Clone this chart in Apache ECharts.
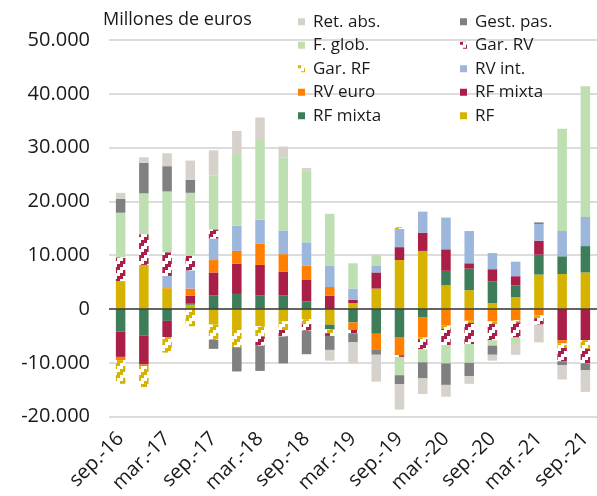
<!DOCTYPE html>
<html>
<head>
<meta charset="utf-8">
<script src="https://cdn.jsdelivr.net/npm/echarts@6/dist/echarts.min.js"></script>
<style>
  html, body { margin: 0; padding: 0; background: #fff; }
  #chart { width: 597px; height: 496px; }
</style>
</head>
<body>
<div id="chart"></div>
<script>
// trimestres
const categorias = ['sep.-16', 'dic.-16', 'mar.-17', 'jun.-17', 'sep.-17', 'dic.-17', 'mar.-18',
  'jun.-18', 'sep.-18', 'dic.-18', 'mar.-19', 'jun.-19', 'sep.-19', 'dic.-19', 'mar.-20',
  'jun.-20', 'sep.-20', 'dic.-20', 'mar.-21', 'jun.-21', 'sep.-21']

// millones de euros
const rf = [5200, 8200, 3800, 800, -2900, -3900, -3200, -2300, -1900, -2900, 1100, 3800, 9100, 10800, 4400, 3500, 1100, 2200, 6400, 6500, 6800]
const rfMixtaVerde = [-4200, -4900, -2200, 300, 2500, 2800, 2500, 2500, 1400, -900, -2500, -4600, -5200, -1600, 2700, 4000, 4000, 2200, 3700, 3300, 4900]
const rfMixta = [-4700, -5400, -3000, 1400, 4300, 5600, 5700, 4400, 4000, 2500, 600, 3000, 2400, 3400, 4000, 1000, 2300, 1700, 2600, -5800, -5800]
const rvEuro = [-600, -300, 250, 1300, 2300, 2400, 4000, 3300, 2700, 1600, -1400, -3000, -3400, -3700, -3100, -2200, -2300, -2100, -1200, -600, 0]
const rvInt = [0, 0, 2100, 3400, 4000, 4700, 4400, 4400, 4300, 4000, 2100, 1300, 3400, 3900, 5900, 6000, 3000, 2700, 3100, 4700, 5400]
const garRF = [-4400, -3900, -2900, -3200, -2800, -3200, -1900, -1600, -900, -700, 0, 0, 300, -300, -600, -400, -400, -400, -500, -800, -1600]
const garRV = [4400, 5700, 4400, 2700, 1700, 0, -1700, -1200, -1200, -500, -600, 0, -300, -1900, -3000, -3900, -3100, -2800, -1200, -2500, -2700]
const fGlob = [8300, 7600, 11300, 11700, 10000, 13300, 15000, 13600, 13400, 9600, 4700, 2000, -3400, -2400, -3400, -3500, -1000, -1200, 0, 19000, 24300]
const gestPas = [2600, 5700, 4700, 2400, -1700, -4500, -4700, -5000, -4400, -2600, -1700, -900, -1700, -3000, -4000, -2500, -1700, 0, 300, -700, -1300]
const retAbs = [1100, 1000, 2400, 3600, 4700, 4300, 4000, 2000, 400, -2000, -3900, -5000, -4700, -2900, -2200, -1400, -1100, -2000, -3300, -2700, -4000]

const FONT = '"Open Sans", sans-serif'

// trama escalonada para los garantizados
function trama(color) {
  const c = document.createElement('canvas')
  c.width = 12
  c.height = 12
  const ctx = c.getContext('2d')
  ctx.fillStyle = '#fff'
  ctx.fillRect(0, 0, 12, 12)
  ctx.fillStyle = color
  for (let k = 0; k < 4; k++) {
    for (let dy = -12; dy <= 12; dy += 12) {
      ctx.fillRect(k * 3, 9 - k * 3 + dy, 3, 6)
    }
  }
  return { image: c, repeat: 'repeat' }
}

function miles(v) {
  const s = Math.abs(v).toString().replace(/\B(?=(\d{3})+(?!\d))/g, '.')
  return (v < 0 ? '-' : '') + s
}

function serie(name, data, color) {
  return {
    name: name,
    type: 'bar',
    stack: 'total',
    barWidth: 9.5,
    data: data,
    itemStyle: { color: color },
    emphasis: { disabled: true }
  }
}

const RF_MIXTA_VERDE = 'RF mixta\u00a0'

const series = [
  serie('RF', rf, '#d5b300'),
  serie(RF_MIXTA_VERDE, rfMixtaVerde, '#3e7d5a'),
  serie('RF mixta', rfMixta, '#aa1f47'),
  serie('RV euro', rvEuro, '#ff8000'),
  serie('RV int.', rvInt, '#9cb7db'),
  serie('Gar. RF', garRF, trama('#d5b300')),
  serie('Gar. RV', garRV, trama('#aa1f47')),
  serie('F. glob.', fGlob, '#bedfb1'),
  serie('Gest. pas.', gestPas, '#808080'),
  serie('Ret. abs.', retAbs, '#d6d2cb')
]

// línea del cero
series[0].markLine = {
  silent: true,
  symbol: 'none',
  label: { show: false },
  lineStyle: { color: '#3c3c3c', width: 1.5, type: 'solid' },
  data: [{ yAxis: 0 }]
}

const leyenda = {
  orient: 'vertical',
  top: 5,
  itemWidth: 7,
  itemHeight: 7,
  itemGap: 0,
  icon: 'rect',
  selectedMode: false,
  textStyle: { fontFamily: FONT, fontSize: 17, color: '#1a1a1a', lineHeight: 23.5, padding: [0, 0, 0, 3] }
}

const chart = echarts.init(document.getElementById('chart'))
chart.setOption({
  animation: false,
  title: {
    text: 'Millones de euros',
    left: 98,
    top: 6,
    textStyle: { fontFamily: FONT, fontSize: 18, fontWeight: 'normal', color: '#1a1a1a' }
  },
  legend: [
    Object.assign({ left: 293, data: ['Ret. abs.', 'F. glob.', 'Gar. RF', 'RV euro', RF_MIXTA_VERDE] }, leyenda),
    Object.assign({ left: 455, data: ['Gest. pas.', 'Gar. RV', 'RV int.', 'RF mixta', 'RF'] }, leyenda)
  ],
  grid: { left: 109, right: 0, top: 40, bottom: 78, containLabel: false },
  xAxis: {
    type: 'category',
    data: categorias,
    axisLine: { show: false, onZero: false },
    axisTick: { show: false },
    axisLabel: {
      interval: 1,
      rotate: 45,
      margin: 19,
      fontFamily: FONT,
      fontSize: 20,
      color: '#1a1a1a'
    }
  },
  yAxis: {
    type: 'value',
    min: -20000,
    max: 50000,
    interval: 10000,
    axisLine: { show: false },
    axisTick: { show: false },
    axisLabel: {
      margin: 19,
      fontFamily: FONT,
      fontSize: 20,
      color: '#1a1a1a',
      formatter: miles
    },
    splitLine: { lineStyle: { color: '#d0d0d0', width: 1.5 } }
  },
  series: series
})
</script>
</body>
</html>
